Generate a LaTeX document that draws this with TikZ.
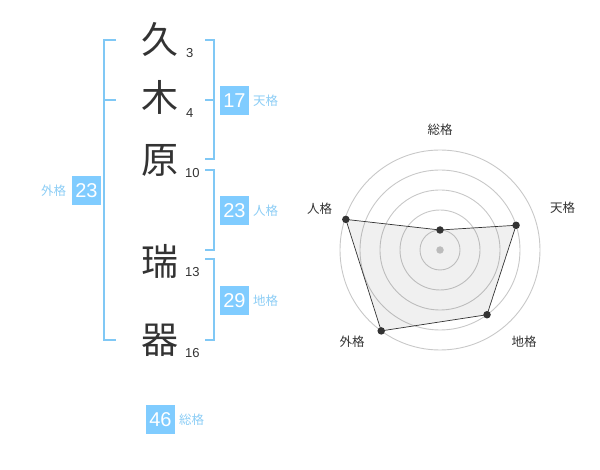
\documentclass[tikz,border=0pt]{standalone}
\usepackage{fontspec}
\setmainfont{Liberation Sans}
\newfontfamily\cjk{Noto Sans CJK JP}
\definecolor{boxblue}{RGB}{128,204,255}
\definecolor{lineblue}{RGB}{128,200,245}
\definecolor{lblblue}{RGB}{140,205,245}
\definecolor{ink}{RGB}{51,51,51}
\definecolor{ring}{RGB}{200,200,200}
\tikzset{
  kanji/.style={font=\cjk\fontsize{37}{37}\selectfont, text=ink, inner sep=0pt},
  strokes/.style={font=\fontsize{13}{13}\selectfont, text=ink, inner sep=0pt, anchor=west},
  numbox/.style={fill=boxblue, text=white, minimum size=29pt, inner sep=0pt, font=\fontsize{20}{20}\selectfont},
  kakulbl/.style={font=\cjk\fontsize{12.5}{12.5}\selectfont, text=lblblue, inner sep=0pt},
  brk/.style={draw=lineblue, line width=1.8pt},
  radarlbl/.style={font=\cjk\fontsize{12.5}{12.5}\selectfont, text=ink, inner sep=0pt},
  dot/.style={circle, fill=ink, inner sep=0pt, minimum size=7.5pt},
}
\begin{document}
\begin{tikzpicture}[x=1pt,y=-1pt]
\useasboundingbox (0,0) rectangle (600,470);
% brackets
\draw[brk] (116,40) -- (104,40) -- (104,340) -- (116,340);
\draw[brk] (104,100) -- (116,100);
\draw[brk] (205,40) -- (214,40) -- (214,159) -- (205,159);
\draw[brk] (205,100) -- (214,100);
\draw[brk] (205,170) -- (214,170) -- (214,250) -- (205,250);
\draw[brk] (205,259) -- (214,259) -- (214,340) -- (205,340);
% characters
\node[kanji] (k1) at (160,39) {久};
\node[kanji] (k2) at (160,97) {木};
\node[kanji] (k3) at (160,160) {原};
\node[kanji] (k4) at (160,261) {瑞};
\node[kanji] (k5) at (160,340) {器};
\node[strokes] (s1) at (186,53) {3};
\node[strokes] (s2) at (186,113) {4};
\node[strokes] (s3) at (185,173) {10};
\node[strokes] (s4) at (185,272) {13};
\node[strokes] (s5) at (185,353) {16};
% boxes
\node[numbox] (ten) at (234.5,100.5) {17};
\node[kakulbl, anchor=west] (tenl) at (253,101) {天格};
\node[numbox] (jin) at (234.5,210.5) {23};
\node[kakulbl, anchor=west] (jinl) at (253,211) {人格};
\node[numbox] (chi) at (234.5,300.5) {29};
\node[kakulbl, anchor=west] (chil) at (253,301) {地格};
\node[numbox] (gai) at (86.5,190.5) {23};
\node[kakulbl] (gail) at (53.5,191) {外格};
\node[numbox] (sou) at (160.5,419.5) {46};
\node[kakulbl, anchor=west] (soul) at (179,420) {総格};
% radar
\begin{scope}[shift={(440,250)}, yscale=-1]
  \foreach \r in {20,40,60,80,100} \draw[ring, line width=0.9pt] (0,0) circle[radius=\r];
  \node[circle, fill=ring, inner sep=0pt, minimum size=7.5pt] (c0) at (0,0) {};
  \coordinate (p1) at (90:20);
  \coordinate (p2) at (18:80);
  \coordinate (p3) at (-54:80);
  \coordinate (p4) at (-126:100);
  \coordinate (p5) at (162:99);
  \fill[black, opacity=0.06] (p1) -- (p2) -- (p3) -- (p4) -- (p5) -- cycle;
  \draw[ink, line width=0.7pt] (p1) -- (p2) -- (p3) -- (p4) -- (p5) -- cycle;
  \foreach \p in {p1,p2,p3,p4,p5} \node[dot] (d\p) at (\p) {};
\end{scope}
\node[radarlbl] (r1) at (440,129.5) {総格};
\node[radarlbl] (r2) at (562.5,208) {天格};
\node[radarlbl] (r3) at (524,342) {地格};
\node[radarlbl] (r4) at (352,342) {外格};
\node[radarlbl] (r5) at (319.5,209) {人格};
\end{tikzpicture}
\end{document}
